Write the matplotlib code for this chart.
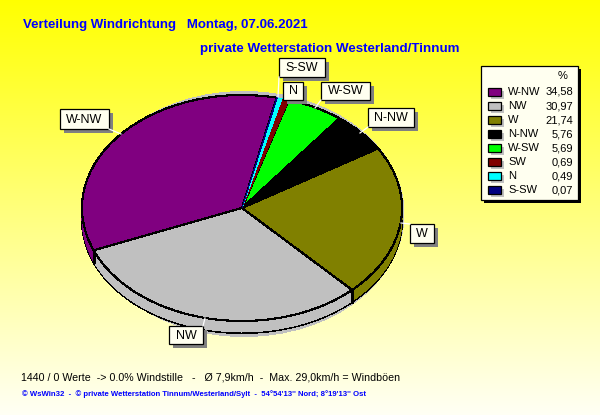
import matplotlib
matplotlib.use("Agg")
import matplotlib.pyplot as plt
from matplotlib.patches import Ellipse, Rectangle
import numpy as np

plt.rcParams["font.family"] = ["Liberation Sans", "DejaVu Sans"]

W, H = 600, 415

directions = ["W-NW", "NW", "W", "N-NW", "W-SW", "SW", "N", "S-SW"]
percent = [34.58, 30.97, 21.74, 5.76, 5.69, 0.69, 0.49, 0.07]
percent_labels = ["34,58", "30,97", "21,74", "5,76", "5,69", "0,69", "0,49", "0,07"]
colors = ["#800080", "#c0c0c0", "#808000", "#000000",
          "#00ff00", "#800000", "#00ffff", "#000080"]

title = "Verteilung Windrichtung   Montag, 07.06.2021"
subtitle = "private Wetterstation Westerland/Tinnum"
stats = "1440 / 0 Werte  -> 0.0% Windstille   -   Ø 7,9km/h  -  Max. 29,0km/h = Windböen"
credit = ("© WsWin32  -  © private Wetterstation Tinnum/Westerland/Sylt  -  "
          "54°54'13'' Nord; 8°19'13'' Ost")

# callout boxes in pixels: name, x0, y0, x1, y1, leader end
callouts = [
    ("S-SW", 279, 58, 325, 77, (278, 97)),
    ("N", 283, 82, 303, 100, None),
    ("W-SW", 321, 82, 370, 100, (315, 108)),
    ("N-NW", 368, 108, 414, 127, (360, 133)),
    ("W", 410, 224, 434, 243, (401, 223)),
    ("NW", 169, 326, 203, 344, (205, 318)),
    ("W-NW", 60, 109, 109, 129, (121, 134)),
]

CREAM = "#fffff0"
SHADOW = "#808080"
START_ANGLE = 77.5

fig = plt.figure(figsize=(W / 100, H / 100), dpi=100)

# page, with the yellow fading out downwards, everything placed in pixels
page = fig.add_axes([0, 0, 1, 1], zorder=0)
page.imshow(np.dstack([np.ones((H, 1)), np.ones((H, 1)),
                       np.linspace(0, 0.96, H)[:, None]]),
            extent=(0, W, H, 0), aspect="auto")
page.set_xlim(0, W)
page.set_ylim(H, 0)
page.axis("off")
page.add_patch(Ellipse((244, 214), 320, 245, color="#c0c0c0", lw=0, antialiased=False))

# pie: a circle squashed by the axes box, walls are the same pie stacked downwards
cx, cy, rx, ry, depth = 242, 208, 160, 113, 12
pie_ax = fig.add_axes([(cx - rx) / W, 1 - (cy + ry) / H, 2 * rx / W, 2 * ry / H], zorder=1)
pie_ax.patch.set_alpha(0)


def draw_pie(offset, edge, raise_thin=False):
    wedges, _ = pie_ax.pie(percent, colors=colors, startangle=START_ANGLE, counterclock=True,
                           center=(0, -offset / ry), radius=1, frame=False)
    for w, p in zip(wedges, percent):
        w.set_antialiased(False)
        w.set_clip_on(False)
        # the thin slices lose their colour under a black outline
        if edge and p > 1:
            w.set_edgecolor("black")
            w.set_linewidth(0.8)
        elif raise_thin:
            w.set_zorder(5)
    return wedges


draw_pie(depth, True)
for d in range(depth - 1, 0, -1):
    draw_pie(d, False)
draw_pie(0, True, raise_thin=True)

# vertical seams where a slice boundary meets the front wall
boundaries = START_ANGLE + np.cumsum(percent) * 3.6
for a in np.radians(boundaries):
    if np.sin(a) < 0:
        pie_ax.plot([np.cos(a)] * 2, [np.sin(a), np.sin(a) - depth / ry],
                    color="black", lw=0.8, antialiased=False, clip_on=False, zorder=6)

pie_ax.set_aspect("auto")
pie_ax.set_xlim(-1, 1)
pie_ax.set_ylim(-1, 1)
pie_ax.axis("off")

# everything on top of the pie
top = fig.add_axes([0, 0, 1, 1], zorder=2)
top.set_xlim(0, W)
top.set_ylim(H, 0)
top.axis("off")
top.patch.set_alpha(0)

top.text(23, 25, title, color="#0000ff", fontsize=9.5, fontweight="bold", va="center")
top.text(200, 49, subtitle, color="#0000ff", fontsize=9.6, fontweight="bold", va="center")
top.text(21, 377, stats, color="black", fontsize=7.7, va="center")
top.text(22, 394, credit, color="#0000ff", fontsize=5.6, fontweight="bold", va="center")

for name, x0, y0, x1, y1, end in callouts:
    if end is not None:
        start_x = min(max(end[0], x0), x1)
        start_y = y1 if end[1] > y1 else (y0 if end[1] < y0 else (y0 + y1) / 2)
        top.plot([start_x, end[0]], [start_y, end[1]], color="white", lw=0.9)
    top.add_patch(Rectangle((x0 + 4, y0 + 4), x1 - x0, y1 - y0, color=SHADOW, lw=0))
    top.add_patch(Rectangle((x0, y0), x1 - x0, y1 - y0, facecolor=CREAM,
                            edgecolor="black", lw=0.9))
    top.text((x0 + x1) / 2, (y0 + y1) / 2 + 0.5, name, fontsize=9, color="black",
             ha="center", va="center")

# legend
top.add_patch(Rectangle((484, 69), 97, 134, color="black", lw=0))
top.add_patch(Rectangle((481, 66), 97, 134, facecolor=CREAM, edgecolor="black", lw=0.9))
top.text(563, 76, "%", fontsize=8, ha="center", va="center", color="black")
for i, (name, value, colour) in enumerate(zip(directions, percent_labels, colors)):
    y = 92 + 14 * i
    top.add_patch(Rectangle((491, y - 1), 13, 8, color="#c0c0c0", lw=0))
    top.add_patch(Rectangle((488, y - 4), 13, 8, facecolor=colour, edgecolor="black", lw=0.9))
    top.text(508, y, name, fontsize=8, va="center", color="black")
    top.text(573, y, value, fontsize=8, va="center", ha="right", color="black")

fig.savefig("out.png", dpi=100)
